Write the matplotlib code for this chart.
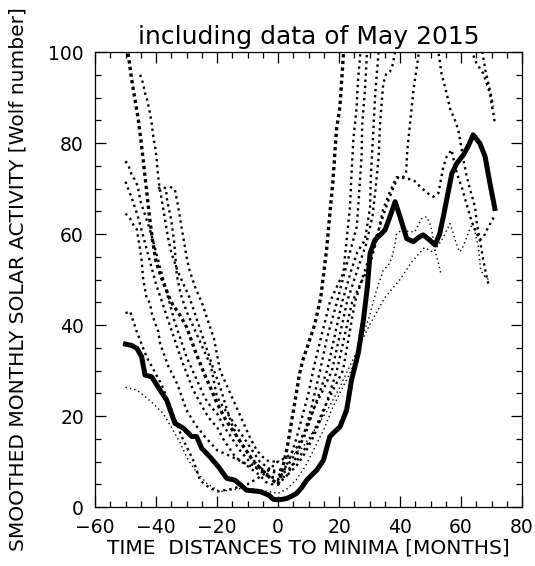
import matplotlib
matplotlib.use("Agg")
import matplotlib.pyplot as plt

# current cycle (thick line), months from minimum vs smoothed Wolf number
cur_months = [-50, -48, -46.3, -44.7, -43.6, -41.4, -38.7, -36.5, -33.8, -31, -28.3, -26.7, -25,
              -22.3, -19.6, -16.8, -14.1, -10.3, -5.9, -3, -1.5, 0, 1.5, 2.9, 4.5, 6.1, 7.8, 9.4,
              11, 12.7, 14.9, 17, 18.5, 20.3, 22.5, 24.1, 26.3, 28, 29.3, 30.2, 31.8, 33.5, 35.1,
              36.7, 38.4, 40, 42.2, 44.4, 46, 47.6, 49.5, 51.5, 53, 54.2, 57, 58.6, 60.8, 62.5,
              64, 66.2, 67.9, 69.5, 71.1]
cur_ssn = [35.8, 35.5, 34.9, 33, 29, 28.6, 25.7, 23.5, 18.4, 17.3, 15.5, 15.5, 12.9, 11, 8.9, 6.3,
           5.9, 3.7, 3.4, 2.6, 1.7, 1.6, 1.7, 1.9, 2.4, 3, 4.3, 5.9, 7, 8.1, 10.3, 15.5, 16.5, 17.6,
           21.3, 27.9, 33.8, 41.1, 48.4, 55.8, 58.7, 59.8, 60.9, 63.8, 67.1, 63.8, 59, 58.3, 59.2,
           59.8, 58.8, 57.6, 60, 63.8, 73.3, 75.5, 77.4, 79.5, 81.8, 79.9, 77, 71.1, 65.6]

# earlier cycles (dotted)
cyc_a_months = [-50, -49, -48, -47, -46, -45, -44, -43, -42, -41, -40, -38, -35, -32, -30, -27, -24,
                -22, -20, -17, -14, -11, -8, -5, -2, 0, 1, 2, 3, 4, 5, 6, 7, 8, 9, 10, 11, 12, 13,
                14, 15, 16, 17, 18, 18.7, 19.2, 20.3, 20.9, 21.4, 22]
cyc_a_ssn = [104, 99, 94, 90, 86, 81, 75, 69, 63, 58, 54, 50, 45, 42, 39.6, 34, 29, 26, 22.8, 19, 16,
             13, 10, 8, 6, 5, 7, 10, 13, 17, 21, 25, 29, 32, 34, 36, 38, 40, 43, 46, 51.5, 57, 64.5,
             71.5, 78.5, 83, 88, 94, 99, 104]

cyc_b_months = [-50, -49, -48, -47, -46, -45, -44, -42, -40, -38, -36, -34, -32, -30, -28, -26, -24,
                -22, -20, -18, -16, -14, -12, -10, -8, -6, -4, -2, 0, 2, 4, 6, 8, 10, 11.5, 14, 17,
                19, 21.4, 22.5, 23.6, 24.1, 24.7, 25.8, 26.2, 26.9, 27.4]
cyc_b_ssn = [76, 75, 73, 72, 70.5, 67, 65, 61, 56, 51, 46, 41, 37, 33, 30, 27, 24, 22, 20.6, 18, 16,
             14, 12, 10.5, 9, 8, 7, 6.5, 6, 8, 11, 15, 20, 25, 30, 37, 45, 48, 51.4, 58.7, 66, 73.3,
             80.7, 88, 93.5, 99, 104]

cyc_c_months = [-50, -48, -46, -44, -42, -40, -38, -36, -34, -32, -30, -28, -26, -24, -22, -20, -18,
                -16, -14, -12, -10, -8, -6, -4, -2, 0, 3, 6, 9, 11, 13.8, 16, 19.3, 22, 24, 25.8,
                26.5, 27, 27.4, 27.6, 28.5, 29.1, 29.5]
cyc_c_ssn = [71.5, 68, 64, 59, 54, 49, 45, 41, 37, 33, 29.5, 26, 23.5, 21, 19, 17.6, 15, 13, 11, 10,
             9, 8, 7, 5.5, 5, 5, 7, 11, 17, 22, 30, 37, 45, 52, 57, 61.6, 68, 73, 77, 84, 91.6, 99,
             104]

cyc_d_months = [-50, -48.5, -47.4, -46.3, -45.8, -45.2, -44.7, -44.2, -43.1, -42, -41.4, -40.3,
                -39.2, -38.7, -36, -33, -30, -27, -24, -20, -15, -12, -9, -6, -3, 0, 3, 6, 9, 12,
                16.1, 21, 24, 26, 28.5, 29.5, 30.2, 30.4, 31.2, 31.8, 32.4, 33, 33.5, 66, 67, 68,
                69, 70, 70.5]
cyc_d_ssn = [64.5, 63.4, 62, 61, 59, 56.5, 54, 50, 46, 44.8, 42.6, 40.4, 38.5, 36, 31, 27, 21.3, 18,
             15.5, 12.5, 11, 10, 9, 8.5, 8, 8, 9, 12, 16, 22, 30, 45, 52, 56, 58.7, 63, 66, 72, 82,
             90, 95.3, 100, 104, 106, 100, 96, 93, 90, 88]

cyc_e_months = [-50, -48.5, -46.3, -43.1, -38.1, -34.9, -31.6, -27.8, -25.6, -23, -20, -15, -10, -5,
                0, 3, 6, 9, 12, 15, 17.7, 22.6, 25, 27, 29, 31, 32, 33, 33.4, 34, 34.5, 35.5, 36.7,
                37.5, 38.4, 39, 62, 64, 65.1, 67.3, 68.4, 69.5, 70, 70.6, 71.1]
cyc_e_ssn = [42.6, 43, 38.5, 33, 26.8, 21.3, 15.5, 10.3, 5.9, 4.5, 3.4, 4, 5, 7, 10, 11, 13, 17, 22,
             26, 30, 45, 50, 54, 58, 64, 70, 77, 83.6, 89, 93, 95.3, 95.7, 97, 100, 104, 106, 99.3,
             97.5, 95.3, 93.1, 90.9, 88.7, 86.5, 84.3]

cyc_f_months = [-45.2, -44.2, -43.6, -42.9, -42.2, -41.4, -40.9, -40.3, -39.8, -39.5, -39, -38, -37,
                -36, -35, -33, -31, -29, -27, -25, -23, -21, -19, -17, -15, -13, -11, -9, -7, -5,
                -3, 0, 3, 6, 9, 12, 15, 19.3, 24.3, 27, 30, 32.4, 34.4, 36.5, 38.9, 41, 42, 42.4,
                43.3, 44.4, 46, 46.5, 48, 51, 52.6, 53.6, 55.3, 56.4, 58, 59.1, 59.7, 60.8, 61.9,
                63, 64.6, 65.2, 66.2, 67.3, 68.4, 69]
cyc_f_ssn = [95, 93, 91, 89.5, 87.3, 84.3, 81.4, 79.2, 76.6, 74, 71, 67, 63, 59, 56, 52, 49, 46, 42,
             38, 34, 30, 26.4, 22, 18, 15, 13, 11, 9.5, 8, 7, 6, 7, 9, 12, 16, 21, 30, 45, 49, 53,
             58.7, 65.3, 69, 72.5, 72.5, 73.4, 78.5, 84.3, 91.6, 99, 103, 108, 107, 100, 95.3, 90.9,
             87.6, 85, 82.9, 80.7, 76.3, 72.6, 69.7, 66, 62.4, 58.7, 54.3, 50.6, 49]

cyc_g_months = [-39.3, -38, -36.7, -36.5, -35, -34, -33.2, -32, -30, -28, -26, -24, -22, -20, -18,
                -16, -14, -12, -10, -8, -6, -4, -2, 0, 3, 6, 9, 12, 16, 21.3, 25.2, 28, 31, 34, 36,
                38, 39.5, 42, 44.4, 46.6, 49, 50.9, 52.6, 54.2, 55.3, 56.9, 58.6, 60.2, 63.5, 66.2,
                67.5, 69, 71]
cyc_g_ssn = [70, 70.4, 70, 68, 63, 58, 51, 47, 43, 40, 37, 34, 31, 24.2, 22, 20, 18, 16, 14, 12, 10,
             9, 8, 7, 8, 10, 13, 17, 23, 30, 45, 51, 57, 63, 67, 70.5, 72.6, 72.2, 71.9, 70.4, 69,
             68.2, 69, 74.8, 77, 78.5, 73.4, 70.4, 62.7, 58.7, 59.5, 61.6, 64]

cyc_h_months = [-35.4, -33.8, -33, -32, -31, -30, -29, -27, -25, -23, -21, -19, -17, -15, -13, -11,
                -9, -7, -5, -3, 0, 4, 8, 12, 16, 20, 25, 30, 35, 40, 44, 48, 51, 54, 56.4, 57.5,
                58.4, 59.5, 60.2, 61.3, 63, 63.9, 65.7, 66.4, 67.3, 68.4, 69]
cyc_h_ssn = [70.4, 69.7, 67, 63, 59, 55, 52, 48, 45, 41, 37, 30, 27, 24, 21, 18, 15, 12.5, 11, 10,
             10, 11, 13, 17, 21, 26, 33, 40, 46, 50, 54, 57, 56, 59, 62.3, 60.1, 58, 56.1, 56.5,
             58.3, 61.3, 62.3, 57.2, 52.4, 51, 50.3, 50]

cyc_i_months = [-50, -48, -46.3, -44, -41, -37.7, -34.4, -32, -30, -27.2, -23.4, -19, -15.7, -11.9,
                -8, -4, 0, 3, 6, 9, 12, 15, 18, 21, 24, 27, 30, 32, 34.5, 36.2, 37.3, 38.4, 38.9,
                41, 43, 44.9, 46, 47.1, 48.7, 49.8, 50.4, 51.5, 52, 52.6, 53.5]
cyc_i_ssn = [26.3, 26, 25.7, 24.5, 22.8, 20.6, 16.9, 14, 11, 8.1, 5.2, 3.4, 3.7, 4.1, 4, 3.5, 3, 4, 6,
             9, 13, 17, 22, 26, 30, 36, 42, 47, 52, 53.2, 54.7, 58, 60.1, 61, 60.5, 60.5, 62, 63.4,
             63.8, 62.3, 60.9, 56.5, 55, 53.6, 51]

title = "including data of May 2015"
xlabel = "TIME  DISTANCES TO MINIMA [MONTHS]"
ylabel = "SMOOTHED MONTHLY SOLAR ACTIVITY [Wolf number]"

fig = plt.figure(figsize=(5.35, 5.66), dpi=100)
ax = fig.add_axes([0.1776, 0.1042, 0.7981, 0.8039])

bold = dict(color="black", linestyle=(0, (1, 1.0)), linewidth=2.4)
medium = dict(color="black", linestyle=(0, (1, 1.6)), linewidth=1.7)
light = dict(color="black", linestyle=(0, (1, 2.2)), linewidth=1.0)

ax.plot(cyc_a_months, cyc_a_ssn, **bold)
for m, s in [(cyc_b_months, cyc_b_ssn), (cyc_c_months, cyc_c_ssn), (cyc_d_months, cyc_d_ssn),
             (cyc_e_months, cyc_e_ssn), (cyc_f_months, cyc_f_ssn), (cyc_g_months, cyc_g_ssn)]:
    ax.plot(m, s, **medium)

# cycle h: heavier dots on the declining side, fine dots after its minimum
h_split = cyc_h_months.index(0) + 1
ax.plot(cyc_h_months[:h_split], cyc_h_ssn[:h_split], **medium)
ax.plot(cyc_h_months[h_split - 1:], cyc_h_ssn[h_split - 1:], **light)
ax.plot(cyc_i_months, cyc_i_ssn, **light)

ax.plot(cur_months, cur_ssn, color="black", linewidth=3.6, solid_joinstyle="round")

ax.set_xlim(-60, 80)
ax.set_ylim(0, 100)
ax.set_xticks(range(-60, 81, 20))
ax.set_xticks(range(-60, 81, 5), minor=True)
ax.set_yticks(range(0, 101, 20))
ax.set_yticks(range(0, 101, 5), minor=True)
ax.tick_params(which="both", direction="in", top=True, right=True, width=0.9)
ax.tick_params(which="major", length=8, labelsize=13.5, pad=8)
ax.tick_params(which="minor", length=4)
for sp in ax.spines.values():
    sp.set_linewidth(0.9)

ax.set_title(title, fontsize=18, pad=6)
ax.set_xlabel(xlabel, fontsize=14.5, labelpad=1)
fig.text(0.034, 0.507, ylabel, rotation=90, fontsize=14.5, ha="center", va="center")

fig.savefig("out.png", dpi=100)
